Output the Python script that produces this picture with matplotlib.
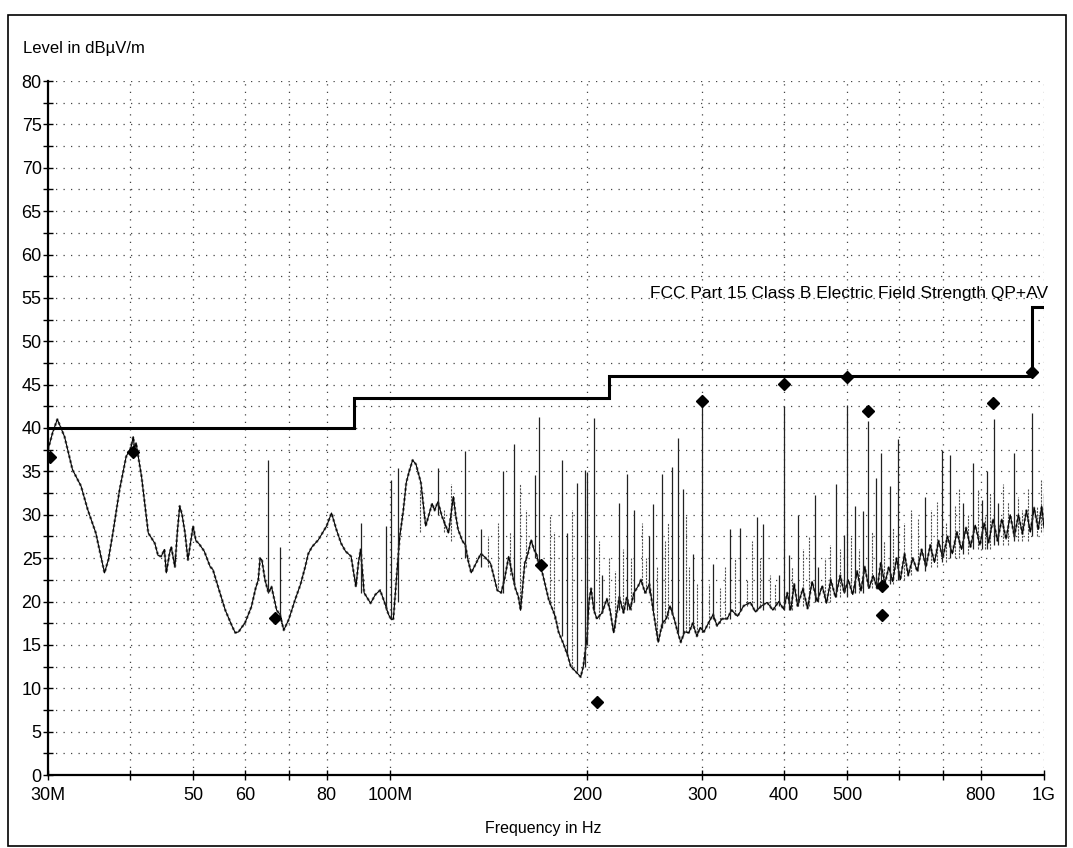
import matplotlib
matplotlib.use("Agg")
import matplotlib.pyplot as plt
from matplotlib.patches import Rectangle
from matplotlib.ticker import FixedLocator, FixedFormatter, MultipleLocator, NullFormatter

plt.rcParams['font.family'] = ['Liberation Sans', 'DejaVu Sans']

# ---------------- data (MHz, dBuV/m) ----------------
trace_freq = [30.0, 30.5, 31.0, 31.8, 32.7, 33.7, 34.5, 35.5, 36.6, 37.1, 37.7, 38.6, 39.5, 40.2, 40.5, 40.7,
              40.9, 41.7, 42.7, 43.7, 44.2, 44.7, 45.2, 45.5, 46.0, 46.3, 46.9, 47.3, 47.7, 48.1, 48.6, 49.1,
              49.6, 50.0, 50.5, 51.0, 52.0, 53.1, 53.6, 54.8, 56.0, 57.4, 58.0, 58.7, 59.3, 60.0, 61.4, 62.3,
              62.9, 63.3, 63.7, 64.4, 65.2, 65.9, 67.1, 67.9, 68.8, 70.0, 71.6, 73.0, 74.2, 75.0, 76.0, 77.7,
              79.0, 80.0, 81.4, 82.8, 84.2, 85.5, 87.2, 88.7, 89.5, 90.2, 91.3, 93.4, 95.0, 96.6, 98.0, 99.5,
              100.5, 101.2, 102.3, 103.5, 104.7, 105.9, 107.0, 108.3, 109.6, 111.5, 113.4, 114.5, 116.0, 117.0,
              118.4, 120.1, 122.9, 125.0, 126.0, 127.1, 129.0, 130.4, 131.6, 133.1, 136.2, 137.7, 139.3, 142.5,
              144.0, 145.9, 147.9, 149.6, 151.9, 153.5, 155.5, 157.1, 158.4, 160.7, 162.5, 164.4, 166.0, 167.5,
              169.2, 171.0, 174.9, 178.9, 181.0, 184.0, 187.1, 189.0, 191.3, 193.0, 195.7, 197.5, 200.2, 201.5,
              203.0, 205.0, 207.2, 211.0, 214.6, 217.0, 219.8, 222.0, 224.2, 227.6, 230.2, 232.9, 236.1, 239.7,
              242.0, 245.5, 249.2, 252.6, 255.0, 257.1, 260.9, 264.5, 268.0, 272.0, 275.3, 278.4, 282.0, 286.4,
              290.4, 294.6, 298.0, 302.0, 305.3, 311.9, 316.3, 322.0, 327.7, 333.0, 340.0, 347.4, 355.7, 362.0,
              370.0, 377.2, 385.0, 393.0, 400.0, 405, 410, 415, 420, 428, 435, 442, 450, 458, 465, 472, 480,
              488, 495, 502, 510, 518, 525, 532, 540, 548, 556, 563, 571, 579, 587, 595, 603, 612, 620, 630,
              640, 650, 660, 670, 680, 690, 700, 712, 724, 736, 748, 760, 772, 785, 798, 810, 823, 836, 849,
              862, 875, 888, 901, 914, 927, 940, 953, 966, 980, 992, 1000]
trace_level = [37.5, 39.5, 41.0, 39.0, 35.2, 33.3, 30.6, 27.9, 23.3, 24.8, 27.9, 32.9, 36.7, 37.8, 39.0, 37.5,
               38.3, 34.4, 27.9, 26.7, 25.3, 25.2, 26.0, 23.3, 25.5, 26.3, 24.0, 28.0, 31.0, 30.0, 27.9, 24.8,
               27.0, 28.7, 27.0, 26.7, 25.8, 24.0, 23.7, 21.3, 19.0, 17.1, 16.4, 16.5, 17.0, 17.5, 19.4, 21.5,
               22.5, 25.0, 24.8, 22.5, 21.0, 21.7, 19.0, 18.5, 16.7, 17.9, 20.2, 22.0, 24.0, 25.5, 26.3, 27.1,
               28.0, 28.7, 30.2, 28.3, 26.7, 25.8, 25.2, 21.7, 24.5, 26.0, 21.0, 19.8, 20.8, 21.3, 20.0, 18.5,
               17.9, 18.0, 22.5, 27.5, 30.2, 33.7, 35.0, 36.3, 35.8, 33.7, 28.7, 29.8, 31.3, 30.5,
               31.5, 29.8, 27.9, 32.1, 30.0, 28.3, 27.0, 26.5, 24.8, 23.3, 24.8, 25.5, 25.2, 24.4,
               23.0, 21.3, 21.0, 22.5, 25.2, 23.5, 21.5, 20.6, 19.0, 24.4, 25.5, 27.1, 26.0, 25.5,
               24.0, 23.3, 20.2, 18.3, 16.5, 15.2, 13.7, 12.5, 12.1, 11.8, 11.3, 12.5, 16.0, 20.0,
               21.5, 19.0, 18.0, 18.7, 20.3, 19.0, 16.4, 18.5, 20.5, 18.7, 20.5, 19.1, 21.0, 21.8,
               22.5, 21.0, 22.0, 19.0, 17.0, 15.3, 17.5, 18.0, 19.5, 18.0, 16.5, 15.3, 16.5, 16.4,
               17.5, 16.0, 17.0, 16.5, 17.2, 18.5, 17.2, 18.0, 18.0, 19.0, 18.3, 19.5, 19.9, 18.8,
               19.5, 19.9, 19.0, 20.0, 19.1, 21.0, 19.0, 22.0, 19.5, 21.5, 19.2, 22.3, 20.0, 21.8, 19.8, 22.5, 20.5,
               23.0, 21.0, 22.5, 20.8, 23.5, 21.2, 24.0, 21.5, 23.0, 21.5, 24.5, 22.0, 24.0, 22.3, 25.0, 22.5, 25.5, 23.0, 25.0,
               23.5, 26.0, 24.0, 26.5, 24.5, 27.0, 25.0, 27.5, 25.5, 28.0, 26.0, 28.5, 26.3, 28.8, 26.5, 29.0, 26.8, 29.5, 27.0,
               29.5, 27.2, 30.0, 27.5, 30.0, 27.8, 30.5, 28.0, 30.8, 28.3, 31.0, 28.5]

# strong emission spikes
spike_freq = [65.2, 67.9, 90.2, 98.6, 100.2, 102.9, 118.4, 130.4, 137.7, 148.8, 154.9, 166.8, 169.2, 183.0,
              186.6, 193.5, 198.4, 200.0, 204.8, 211.0, 224.2, 230.2, 236.1, 249.2, 252.6, 260.9, 270.0, 275.3,
              280.1, 290.4, 300.0, 311.9, 331.6, 343.3, 364.2, 372.1, 393.0, 400.0, 406.9, 421.2, 446.0, 451.5,
              480.4, 494.5, 500.0, 514.5, 529.4, 538.7, 553.2, 562.6, 581.2, 598.4, 657.4, 698.6, 717.2, 752.9,
              779.0, 803.0, 818.5, 837.4, 851.8, 899.4, 960.0, 1000.0]
spike_top = [36.3, 26.3, 29.0, 28.7, 34.0, 35.4, 35.4, 37.3, 28.3, 35.0, 38.1, 34.6, 41.3, 36.3,
             27.9, 33.7, 35.2, 34.9, 41.2, 23.0, 31.4, 34.7, 30.5, 27.6, 31.2, 34.7, 35.5, 38.9,
             33.0, 25.5, 43.0, 24.3, 28.3, 28.5, 29.7, 28.9, 23.0, 42.5, 25.4, 30.0, 32.3, 24.0,
             33.5, 27.7, 42.7, 31.0, 30.4, 40.8, 34.2, 37.1, 33.3, 38.7, 32.1, 37.5, 36.9, 31.3,
             36.0, 31.7, 35.0, 41.0, 31.3, 37.1, 41.7, 32.5]
spike_base = [21.0, 18.5, 21.0, 19.0, 18.0, 20.0, 30.0, 25.0, 24.0, 21.0, 22.0, 25.0, 24.0, 16.0,
              14.0, 12.0, 12.5, 15.0, 19.0, 18.7, 19.0, 19.0, 20.0, 21.0, 19.0, 17.0, 18.5, 16.5,
              16.0, 17.0, 16.5, 18.0, 18.0, 19.0, 19.0, 19.0, 19.5, 19.0, 19.0, 19.5, 20.0, 20.0,
              20.5, 21.0, 20.5, 21.0, 21.0, 21.5, 21.5, 22.0, 22.0, 22.5, 23.5, 24.5, 25.0, 25.5,
              26.0, 26.0, 26.0, 26.5, 26.5, 27.0, 27.5, 28.0]

# smaller noise spikes
small_freq = [111.0, 121.0, 124.0, 141.0, 146.5, 152.5, 158.0, 161.5, 175.5, 178.0, 189.5,
              208.5, 216.0, 221.0, 227.0, 234.0, 243.0, 246.0, 256.0, 263.0, 266.0, 284.0, 287.0, 295.0,
              308.0, 320.0, 325.0, 337.0, 352.0, 358.0, 368.0, 381.0, 388.0,
              412, 428, 437, 463, 470, 487, 506, 521, 545, 570, 588, 610, 625, 642, 672, 685, 708,
              730, 742, 765, 792, 812, 826, 866, 880, 912, 925, 945, 975, 990]
small_top = [33.0, 30.5, 33.5, 27.5, 29.0, 28.0, 33.5, 30.5, 30.0, 28.0, 30.5,
             27.0, 25.0, 23.5, 26.0, 25.0, 29.0, 25.0, 24.0, 27.0, 29.0, 30.0, 24.0, 22.0,
             22.0, 21.5, 24.0, 25.0, 22.5, 27.0, 25.0, 23.0, 22.0,
             24.0, 26.0, 27.5, 25.0, 26.5, 26.0, 27.5, 26.0, 28.0, 27.0, 28.5, 29.0, 30.5, 29.5, 30.5, 31.5, 29.0,
             31.0, 33.0, 30.0, 33.0, 30.0, 32.5, 33.5, 31.5, 32.0, 30.5, 33.0, 31.0, 34.0]
small_base = [28.0, 28.0, 27.0, 24.0, 21.5, 23.0, 19.0, 24.0, 20.0, 18.0, 12.5,
              18.0, 19.0, 17.0, 19.0, 19.0, 22.0, 21.0, 16.0, 17.5, 18.0, 16.5, 16.5, 16.0,
              17.0, 17.5, 18.0, 18.5, 19.5, 19.5, 19.5, 19.5, 19.0,
              19.0, 19.5, 19.5, 20.0, 20.0, 20.5, 21.0, 21.0, 21.5, 22.0, 22.0, 22.5, 23.0, 23.5, 24.0, 24.0, 24.5,
              25.0, 25.0, 25.5, 26.0, 26.0, 26.0, 26.5, 26.5, 27.0, 27.0, 27.0, 27.5, 28.0]

meas_freq = [30.2, 40.5, 66.7, 170.0, 207.5, 300.0, 400.0, 500.0, 538.0, 565.0, 565.0, 836.0, 960.0]
meas_level = [36.6, 37.2, 18.1, 24.2, 8.4, 43.1, 45.1, 45.9, 42.0, 21.8, 18.5, 42.9, 46.4]

limit_edges = [30, 88, 216, 960, 1000]
limit_levels = [40, 43.5, 46, 54]

tick_freq = [30, 40, 50, 60, 70, 80, 100, 200, 300, 400, 500, 600, 700, 800, 1000]
tick_text = ['30M', '', '50', '60', '', '80', '100M', '200', '300', '400', '500', '', '', '800', '1G']

limit_name = 'FCC Part 15 Class B Electric Field Strength QP+AV'

# ---------------- figure ----------------
W, H = 1073, 848
fig = plt.figure(figsize=(W / 100, H / 100), dpi=100)
left_px, right_px, bottom_px, top_px = 48, 1044, 775, 81
ax = fig.add_axes([left_px / W, 1 - bottom_px / H, (right_px - left_px) / W, (bottom_px - top_px) / H])

ax.set_xscale('log')
ax.set_xlim(30, 1000)
ax.set_ylim(0, 80)

# grid
grid_kw = dict(color='#444444', linestyle=(0, (1, 5)), linewidth=0.9)
for f in tick_freq[1:]:
    ax.axvline(f, **grid_kw, zorder=1)
for lvl in range(1, 33):
    ax.axhline(lvl * 2.5, **grid_kw, zorder=1)

# spectrum
ax.plot(trace_freq, trace_level, color='#777777', linestyle=(0, (1, 1)), linewidth=1.8, zorder=2)
ax.plot(trace_freq, trace_level, color='black', linewidth=0.8, zorder=3)
ax.vlines(small_freq, small_base, small_top, color='#555555', linewidth=0.8, linestyles=(0, (2, 1)), zorder=2)
ax.vlines(spike_freq, spike_base, spike_top, color='#222222', linewidth=0.9, zorder=3)

# limit line
ax.stairs(limit_levels, limit_edges, baseline=None, color='black', linewidth=2.2, zorder=4)

# measured points
ax.plot(meas_freq, meas_level, linestyle='none', marker='D', markersize=6.5, color='black', zorder=5)

ax.text(1.004, 54.6, limit_name, transform=ax.get_yaxis_transform(), ha='right', va='bottom',
        fontsize=12.5, color='black', zorder=6)

# axes styling
for s in ['top', 'right']:
    ax.spines[s].set_visible(False)
for s in ['left', 'bottom']:
    ax.spines[s].set_linewidth(1.6)

ax.xaxis.set_major_locator(FixedLocator(tick_freq))
ax.xaxis.set_major_formatter(FixedFormatter(tick_text))
ax.xaxis.set_minor_locator(FixedLocator([]))
ax.xaxis.set_minor_formatter(NullFormatter())
ax.yaxis.set_major_locator(MultipleLocator(5))
ax.yaxis.set_minor_locator(MultipleLocator(2.5))
ax.tick_params(axis='x', which='major', direction='inout', length=7, width=1, labelsize=13, pad=5)
ax.tick_params(axis='y', which='major', direction='inout', length=7, width=1, labelsize=13, pad=1)
ax.tick_params(axis='y', which='minor', direction='inout', length=7, width=1)

fig.text(23 / W, 1 - 48 / H, 'Level in dB\u00b5V/m', fontsize=12, ha='left', va='center')
fig.text(543 / W, 1 - 828 / H, 'Frequency in Hz', fontsize=11.5, ha='center', va='center')

# outer frame
fig.patches.append(Rectangle((8 / W, 2 / H), (1066 - 8) / W, (833 - 2) / H, transform=fig.transFigure,
                             fill=False, edgecolor='black', linewidth=1.2))

fig.savefig('out.png', dpi=100)
